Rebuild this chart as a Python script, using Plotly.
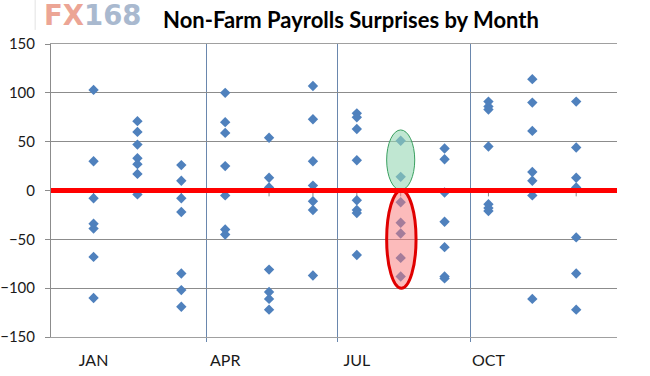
import plotly.graph_objects as go

months = ["JAN", "FEB", "MAR", "APR", "MAY", "JUN", "JUL", "AUG", "SEP", "OCT", "NOV", "DEC"]
jan = [103, 30, -8, -34, -39, -68, -110]
feb = [71, 60, 47, 33, 27, 17, -4]
mar = [26, 10, -8, -22, -85, -102, -119]
apr = [100, 70, 59, 25, -5, -40, -45]
may = [54, 13, 3, -81, -104, -111, -122]
jun = [107, 73, 30, 5, -11, -20, -87]
jul = [79, 75, 63, 31, -10, -20, -23, -66]
aug = [51, 14, -12, -33, -44, -69, -88]
sep = [43, 32, -2, -32, -58, -88, -90]
oct_ = [91, 86, 83, 45, -14, -18, -21]
nov = [114, 90, 61, 19, 10, -5, -111]
dec = [91, 44, 13, 3, -48, -85, -122]
series = [jan, feb, mar, apr, may, jun, jul, aug, sep, oct_, nov, dec]

quarter_ticks = [3.57, 6.55, 9.6]
label_pos = [1, 4, 7, 10]
label_text = ["JAN", "APR", "JUL", "OCT"]
y_ticks = [-150, -100, -50, 0, 50, 100, 150]

xs, ys = [], []
for i, vals in enumerate(series):
    for v in vals:
        xs.append(i + 1)
        ys.append(v)

FONT = "Lato"
fig = go.Figure()

# small category ticks below the zero axis
fig.add_trace(go.Scatter(
    x=list(range(1, 13)), y=[0] * 12, mode="markers",
    marker=dict(size=1, color="rgba(0,0,0,0)"),
    error_y=dict(type="data", symmetric=False, array=[0] * 12, arrayminus=[6] * 12,
                 width=0, thickness=1, color="#888888"),
    hoverinfo="skip", showlegend=False))

fig.add_trace(go.Scatter(
    x=xs, y=ys, mode="markers",
    marker=dict(symbol="diamond", size=8, color="#4f81bd", line=dict(width=0)),
    showlegend=False))

# invisible trace for second x axis labels
fig.add_trace(go.Scatter(x=label_pos, y=[None] * 4, xaxis="x2", showlegend=False, hoverinfo="skip"))

# highlight ellipses
fig.add_shape(type="circle", xref="x", yref="y", x0=7.68, x1=8.32, y0=0.5, y1=62,
              fillcolor="rgba(150,215,180,0.6)", line=dict(color="#3aa060", width=1), layer="above")
fig.add_shape(type="circle", xref="x", yref="y", x0=7.68, x1=8.35, y0=-100, y1=0,
              fillcolor="rgba(250,120,120,0.5)", line=dict(color="#e00000", width=3), layer="above")
# zero line
fig.add_shape(type="line", xref="paper", yref="y", x0=0, x1=1, y0=0, y1=0,
              line=dict(color="#ff0000", width=5), layer="above")
# faint logo border line
fig.add_shape(type="line", xref="paper", yref="paper", x0=-0.028, x1=-0.028, y0=1.048, y1=1.15,
              line=dict(color="#e2e2e2", width=1))

fig.update_layout(
    width=650, height=376,
    margin=dict(l=51, r=33, t=44, b=39, autoexpand=False),
    paper_bgcolor="white", plot_bgcolor="white",
    font=dict(family=FONT, size=15, color="#1a1a1a"),
    title=dict(text="<b>Non-Farm Payrolls Surprises by Month</b>", x=0.54, xanchor="center",
               y=0.945, yanchor="middle", font=dict(family=FONT, size=22, color="#000000")),
    xaxis=dict(range=[0.03, 12.93], tickvals=quarter_ticks, showticklabels=False,
               showgrid=True, gridcolor="#6a87ad", gridwidth=1, automargin=False,
               ticks="outside", ticklen=4, tickcolor="#6a87ad",
               showline=True, linecolor="#a0a0a0", mirror=True, zeroline=False),
    xaxis2=dict(range=[0.03, 12.93], overlaying="x", side="bottom", anchor="y",
                tickvals=label_pos, ticktext=label_text, showgrid=False, showline=False,
                ticks="", zeroline=False, ticklabelstandoff=12, automargin=False,
                tickfont=dict(family=FONT, size=16, color="#1a1a1a")),
    yaxis=dict(range=[-150, 150], tickvals=y_ticks, showgrid=True, gridcolor="#8c8c8c",
               gridwidth=1, ticks="outside", ticklen=5, tickcolor="#8c8c8c", automargin=False,
               showline=True, linecolor="#8c8c8c", zeroline=False, ticklabelstandoff=7,
               tickfont=dict(family=FONT, size=15, color="#1a1a1a")),
)

fig.add_annotation(
    xref="paper", yref="paper", x=-0.016, y=1.0375, xanchor="left", yanchor="bottom",
    text="<b><span style='color:#eca595'>FX</span><span style='color:#a9b9cf'>168</span></b>",
    showarrow=False, font=dict(family="DejaVu Sans", size=27.5))

fig.write_html("out.html", config={"displayModeBar": False},
               post_script="document.body.style.margin='0';document.body.style.padding='0';")
